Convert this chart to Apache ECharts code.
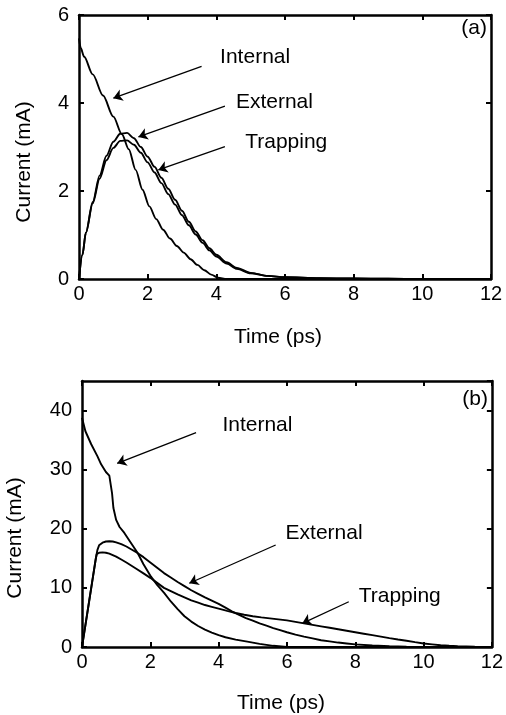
<!DOCTYPE html>
<html><head><meta charset="utf-8">
<script src="https://cdn.jsdelivr.net/npm/echarts@6/dist/echarts.min.js"></script>
<style>html,body{margin:0;padding:0;background:#fff}#c{width:506px;height:715px}</style>
</head><body><div id="c"></div>
<script>
// ---------- Panel (a) ----------
const timeA = [0,0.1,0.2,0.4,0.6,0.8,1.0,1.2,1.4,1.6,1.8,2.0,2.2,2.4,2.6,2.8,3.0,3.2,3.4,3.6,3.8,4.0,4.3,4.6,5.0,5.5,6.0,7,8,9,10,11,12];
const externalA = [0,0.55,1.05,1.75,2.35,2.8,3.12,3.3,3.32,3.2,3.0,2.78,2.55,2.3,2.05,1.8,1.55,1.3,1.08,0.88,0.7,0.55,0.38,0.25,0.14,0.07,0.04,0.02,0.01,0.005,0,0,0];
const trappingA = [0,0.55,1.05,1.72,2.28,2.7,2.98,3.14,3.15,3.05,2.87,2.65,2.42,2.18,1.93,1.69,1.45,1.22,1.01,0.82,0.65,0.51,0.35,0.23,0.13,0.07,0.04,0.02,0.01,0.005,0,0,0];
const timeAint = [0,0.05,0.15,0.4,0.7,1.0,1.25,1.45,1.65,1.85,2.05,2.25,2.45,2.65,2.85,3.05,3.25,3.45,3.65,3.85,4.05,4.3,5,6,8,10,12];
const internalA = [5.47,5.25,5.05,4.65,4.17,3.69,3.29,2.95,2.48,2.03,1.65,1.36,1.12,0.92,0.75,0.6,0.45,0.32,0.2,0.1,0.03,0,0,0,0,0,0];

// ---------- Panel (b) ----------
const timeBext = [0,0.1,0.2,0.3,0.4,0.45,0.5,0.6,0.7,0.8,0.9,1.0,1.15,1.3,1.45,1.6,1.8,2.0,2.2,2.4,2.6,2.8,3.0,3.2,3.4,3.6,3.8,4.0,4.2,4.4,4.6,4.8,5.0,5.2,5.4,5.6,5.8,6.0,6.25,6.5,6.75,7.0,7.25,7.5,7.75,8.0,8.5,9.0,9.5,10,11,12];
const externalB = [0,3.7,7.4,11.1,14.8,16.4,17.2,17.65,17.85,17.9,17.85,17.7,17.4,17.0,16.5,16.0,15.2,14.3,13.4,12.5,11.75,11.0,10.3,9.6,9.0,8.4,7.85,7.3,6.65,6.0,5.45,4.9,4.45,4.0,3.6,3.2,2.85,2.5,2.1,1.75,1.45,1.15,0.95,0.75,0.6,0.45,0.25,0.12,0.05,0.02,0,0];
const timeBtrap = [0,0.1,0.2,0.3,0.4,0.43,0.5,0.6,0.7,0.8,0.9,1.0,1.15,1.3,1.45,1.6,1.8,2.0,2.2,2.4,2.6,2.8,3.0,3.2,3.4,3.6,3.8,4.0,4.25,4.5,4.75,5.0,5.25,5.5,5.75,6.0,6.25,6.5,6.75,7.0,7.25,7.5,7.75,8.0,8.25,8.5,8.75,9.0,9.25,9.5,9.75,10,10.25,10.5,10.75,11,11.5,12];
const trappingB = [0,3.7,7.4,11.1,14.8,15.7,15.95,16.0,15.95,15.8,15.55,15.3,14.8,14.3,13.75,13.2,12.45,11.7,10.85,10.0,9.45,8.9,8.4,7.9,7.5,7.1,6.8,6.5,6.1,5.75,5.45,5.2,5.02,4.85,4.68,4.5,4.25,4.0,3.75,3.5,3.25,3.0,2.75,2.5,2.25,2.0,1.75,1.5,1.27,1.05,0.82,0.6,0.45,0.3,0.2,0.12,0.04,0];
const timeBint = [0,0.1,0.27,0.45,0.56,0.7,0.8,0.85,0.88,0.92,1.0,1.1,1.24,1.4,1.63,1.8,2.02,2.2,2.41,2.6,2.8,3.0,3.2,3.4,3.6,3.8,4.0,4.2,4.5,4.84,5.2,5.6,6,8,10,12];
const internalB = [38.8,36.5,34.3,32.3,30.9,29.6,29.0,28.7,26.0,23.5,21.5,20.3,19.3,17.9,15.9,14.0,11.9,10.5,9.1,7.7,6.4,5.2,4.3,3.55,2.95,2.45,2.0,1.65,1.25,0.9,0.52,0.2,0,0,0,0];

// ---------- Axes ----------
const xTicks = [0,2,4,6,8,10,12];
const yTicksA = [0,2,4,6];
const yTicksB = [0,10,20,30,40];
const yMaxB = 45;

// ---------- Annotations (data coords) ----------
const arrowsA = [
  {from:[3.57,4.83], to:[1.0,4.11]},
  {from:[4.25,3.93], to:[1.73,3.23]},
  {from:[4.25,3.01], to:[2.31,2.48]}
];
const labelsA = [
  {text:'Internal', at:[4.11,5.03]},
  {text:'External', at:[4.57,4.01]},
  {text:'Trapping', at:[4.84,3.10]}
];
const arrowsB = [
  {from:[3.34,36.25], to:[1.03,31.08]},
  {from:[5.67,17.26], to:[3.14,10.78]},
  {from:[7.81,7.66], to:[6.45,4.01]}
];
const labelsB = [
  {text:'Internal', at:[4.11,37.56]},
  {text:'External', at:[5.96,19.29]},
  {text:'Trapping', at:[8.10,8.63]}
];
const panelTags = [{text:'(a)', grid:0, at:[12,5.70]},{text:'(b)', grid:1, at:[12,41.96]}];

const FONT = '"Liberation Sans", Arial, Helvetica, sans-serif';
const zip = (xs, ys) => xs.map((x,i)=>[x, ys[i]]);

function xAx(grid, pos, labels){
  return {type:'value', gridIndex:grid, position:pos, min:xTicks[0], max:xTicks[xTicks.length-1], interval:xTicks[1]-xTicks[0],
    axisLine:{show:true, onZero:false, lineStyle:{color:'#000', width:2.5}},
    axisTick:{show:true, inside:true, length:5, lineStyle:{color:'#000', width:2}},
    axisLabel:{show:labels, color:'#000', fontSize:20, fontFamily:FONT, margin:5},
    splitLine:{show:false}};
}
function yAx(grid, pos, labels, ticks, max){
  return {type:'value', gridIndex:grid, position:pos, min:ticks[0], max:max, interval:ticks[1]-ticks[0],
    axisLine:{show:true, onZero:false, lineStyle:{color:'#000', width:2.5}},
    axisTick:{show:true, inside:true, length:5, lineStyle:{color:'#000', width:2}},
    axisLabel:{show:labels, color:'#000', fontSize:20, fontFamily:FONT, margin:10, showMaxLabel: max===ticks[ticks.length-1]},
    splitLine:{show:false}};
}
function lineSeries(data, gi, smooth){
  return {type:'line', xAxisIndex:gi*2, yAxisIndex:gi*2, data:data, showSymbol:false, symbol:'none',
    smooth:smooth, smoothMonotone:'x', lineStyle:{color:'#000', width:1.9}, z:3};
}
function arrowSeries(arrows, gi){
  return {type:'lines', coordinateSystem:'cartesian2d', xAxisIndex:gi*2, yAxisIndex:gi*2,
    symbol:['none','arrow'], symbolSize:[0,9],
    lineStyle:{color:'#000', width:1.3, curveness:0, opacity:1},
    data: arrows.map(a=>({coords:[a.from, a.to]})), z:4};
}

const chart = echarts.init(document.getElementById('c'), null, {renderer:'canvas'});
chart.setOption({
  animation:false,
  backgroundColor:'#fff',
  grid:[
    {left:79, top:15, width:412, height:264},
    {left:82, top:381, width:412, height:266}
  ],
  xAxis:[xAx(0,'bottom',true), xAx(0,'top',false), xAx(1,'bottom',true), xAx(1,'top',false)],
  yAxis:[yAx(0,'left',true,yTicksA,yTicksA[yTicksA.length-1]), yAx(0,'right',false,yTicksA,yTicksA[yTicksA.length-1]),
         yAx(1,'left',true,yTicksB,yMaxB), yAx(1,'right',false,yTicksB,yMaxB)],
  series:[
    lineSeries(zip(timeAint, internalA),0,0.3),
    lineSeries(zip(timeA, externalA),0,0.3),
    lineSeries(zip(timeA, trappingA),0,0.3),
    lineSeries(zip(timeBint, internalB),1,false),
    lineSeries(zip(timeBext, externalB),1,false),
    lineSeries(zip(timeBtrap, trappingB),1,false),
    arrowSeries(arrowsA,0),
    arrowSeries(arrowsB,1)
  ]
});

const g = [];
function addText(text, px){
  g.push({type:'text', x:px[0], y:px[1], z:10,
    style:{text:text, fill:'#000', font:'21px '+FONT, align:'left', verticalAlign:'middle'}});
}
labelsA.forEach(l=>addText(l.text, chart.convertToPixel({gridIndex:0}, l.at)));
labelsB.forEach(l=>addText(l.text, chart.convertToPixel({gridIndex:1}, l.at)));
panelTags.forEach(t=>{
  const p = chart.convertToPixel({gridIndex:t.grid}, t.at);
  g.push({type:'text', x:p[0]-4, y:p[1], z:10, style:{text:t.text, fill:'#000', font:'21px '+FONT, align:'right', verticalAlign:'middle'}});
});
// axis titles
g.push({type:'text', x:24, y:162, rotation:Math.PI/2, z:10, style:{text:'Current (mA)', fill:'#000', font:'21px '+FONT, align:'center', verticalAlign:'middle'}});
g.push({type:'text', x:15, y:538, rotation:Math.PI/2, z:10, style:{text:'Current (mA)', fill:'#000', font:'21px '+FONT, align:'center', verticalAlign:'middle'}});
g.push({type:'text', x:278, y:337, z:10, style:{text:'Time (ps)', fill:'#000', font:'21px '+FONT, align:'center', verticalAlign:'middle'}});
g.push({type:'text', x:281, y:703, z:10, style:{text:'Time (ps)', fill:'#000', font:'21px '+FONT, align:'center', verticalAlign:'middle'}});
chart.setOption({graphic:g});
</script>
</body></html>
